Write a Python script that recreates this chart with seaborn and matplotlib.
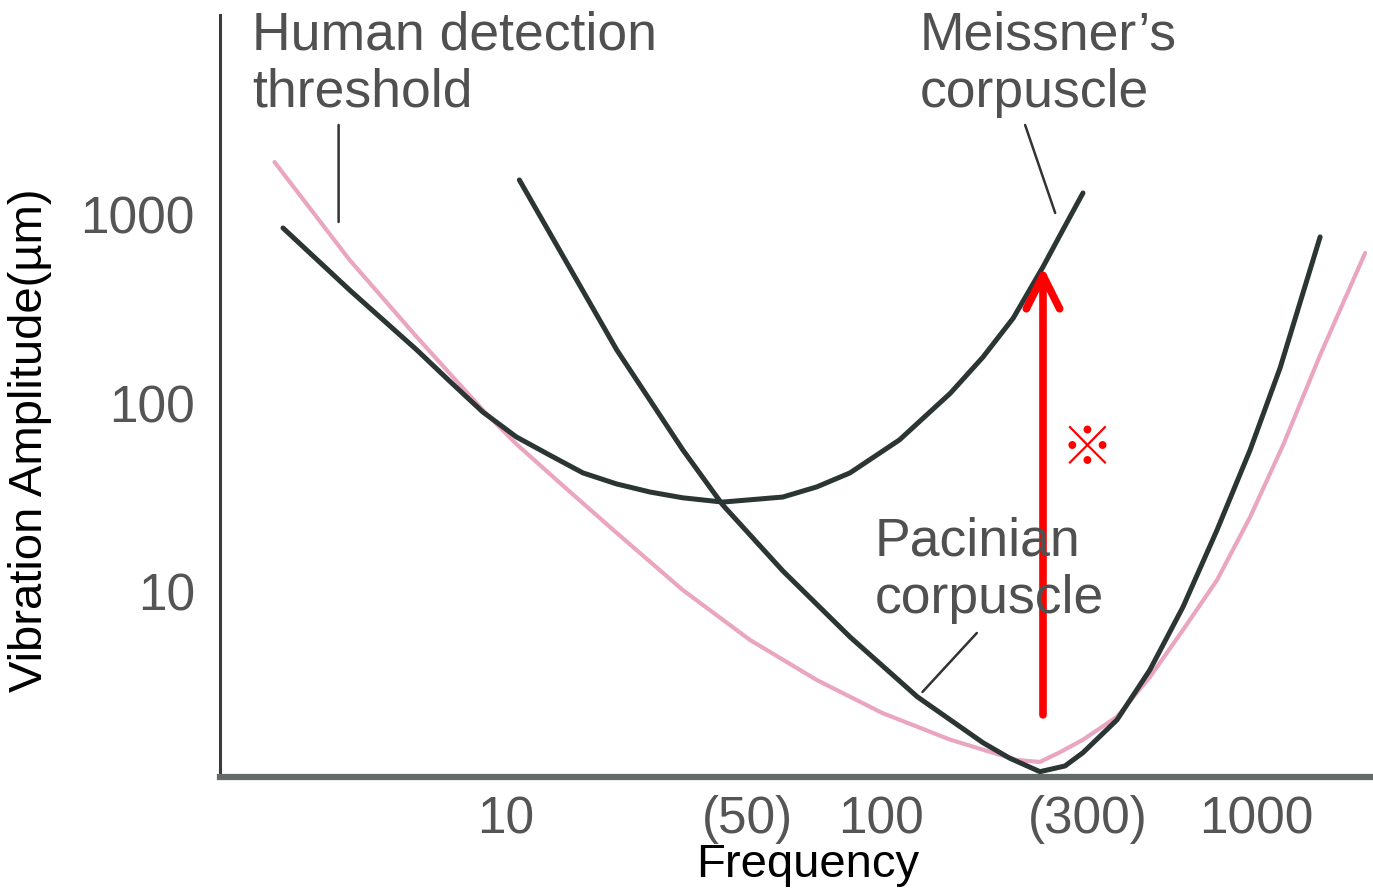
import matplotlib
matplotlib.use('Agg')
import matplotlib.pyplot as plt
import seaborn as sns
import pandas as pd
from matplotlib.ticker import NullLocator

# values: frequency (Hz) and vibration amplitude (um)
human_freq = [2.43, 3.85, 5.81, 8.71, 10.7, 13.97, 19.8, 29.7, 44.8, 67.5, 101, 153, 230, 265,
              300, 345, 425, 520, 637, 785, 961, 1177, 1476, 1945]
human_amp = [1905, 576, 225, 92.1, 60.8, 37.8, 20.5, 10.2, 5.55, 3.40, 2.27, 1.64, 1.28, 1.25,
             1.41, 1.64, 2.17, 3.53, 6.27, 11.55, 24.9, 60.1, 180, 627]

meissner_freq = [2.56, 3.85, 5.81, 7.11, 8.71, 10.7, 13.1, 16.1, 19.8, 24.3, 29.7, 37.9, 54.8,
                 67.5, 82.7, 112, 153, 187, 225, 270, 305, 345]
meissner_amp = [851, 399, 192, 131, 89.9, 66.3, 53.2, 42.7, 37.3, 33.8, 31.5, 29.9, 31.8,
                36.0, 42.7, 63.9, 113, 176, 283, 529, 831, 1305]

pacinian_freq = [10.9, 19.8, 29.7, 37.9, 54.8, 82.7, 125, 187, 220, 265, 309, 345, 425, 520, 637,
                 785, 961, 1155, 1476]
pacinian_amp = [1530, 192, 56.5, 28.9, 12.9, 5.76, 2.77, 1.58, 1.31, 1.11, 1.19, 1.40, 2.09, 3.85,
                8.31, 21.3, 56.5, 154, 763]

x_ticks = [10, 44, 100, 355, 1000]
x_tick_labels = ['10', '(50)', '100', '(300)', '1000']
y_ticks = [10, 100, 1000]
y_tick_labels = ['10', '100', '1000']

# red arrow: gap between Pacinian and Meissner thresholds
arrow_freq = 270
arrow_from, arrow_to = 2.22, 529

sns.set_style('white')
plt.rcParams['font.family'] = ['Liberation Sans', 'DejaVu Sans']

fig = plt.figure(figsize=(13.73, 8.94), dpi=100)
ax = fig.add_axes([220 / 1373, 117 / 894, 1150 / 1373, 762 / 894])

human = pd.DataFrame({'freq': human_freq, 'amp': human_amp})
meissner = pd.DataFrame({'freq': meissner_freq, 'amp': meissner_amp})
pacinian = pd.DataFrame({'freq': pacinian_freq, 'amp': pacinian_amp})

sns.lineplot(data=human, x='freq', y='amp', sort=False, color='#eaa6c0', linewidth=3.0, ax=ax)
sns.lineplot(data=meissner, x='freq', y='amp', sort=False, color='#2b3533', linewidth=3.6, ax=ax)
sns.lineplot(data=pacinian, x='freq', y='amp', sort=False, color='#2b3533', linewidth=3.6, ax=ax)

ax.set_xscale('log')
ax.set_yscale('log')
ax.set_xlim(1.74, 2004)
ax.set_ylim(1.04, 11480)
ax.set_xticks(x_ticks)
ax.set_xticklabels(x_tick_labels)
ax.set_yticks(y_ticks)
ax.set_yticklabels(y_tick_labels)
ax.xaxis.set_minor_locator(NullLocator())
ax.yaxis.set_minor_locator(NullLocator())
ax.tick_params(axis='both', direction='in', length=16, width=1.8, color='#333333',
               labelsize=37, labelcolor='#555555')
ax.tick_params(axis='x', pad=13)
ax.tick_params(axis='y', pad=18)

for side in ['top', 'right']:
    ax.spines[side].set_visible(False)
ax.spines['left'].set_linewidth(2.2)
ax.spines['left'].set_color('#3a3a3a')
ax.spines['bottom'].set_linewidth(4.5)
ax.spines['bottom'].set_color('#646a68')

ax.set_xlabel('Frequency', fontsize=34, color='black', va='center')
ax.xaxis.set_label_coords(0.511, -0.1155)
ax.set_ylabel('Vibration Amplitude(µm)', fontsize=34, color='black', va='center')
ax.yaxis.set_label_coords(-0.165, 0.442)

# curve labels with their pointer lines
text_kw = dict(fontsize=38.5, color='#505050', ha='left', va='top', linespacing=1.2)
fig.text(252 / 1373, 1 - 10 / 894, 'Human detection\nthreshold', **text_kw)
fig.text(920 / 1373, 1 - 10 / 894, 'Meissner’s\ncorpuscle', **text_kw)
fig.text(875 / 1373, 1 - 516 / 894, 'Pacinian\ncorpuscle', **text_kw)

line_kw = dict(arrowstyle='-', color='#333333', lw=1.8, shrinkA=0, shrinkB=0)
ax.annotate('', xy=(3.60, 916), xytext=(3.60, 2995), arrowprops=line_kw)
ax.annotate('', xy=(291, 1022), xytext=(242, 2995), arrowprops=line_kw)
ax.annotate('', xy=(129, 2.94), xytext=(180, 6.04), arrowprops=line_kw)

ax.annotate('', xy=(arrow_freq, arrow_to), xytext=(arrow_freq, arrow_from),
            arrowprops=dict(arrowstyle='->,head_length=0.6,head_width=0.3', color='red',
                            lw=5.5, mutation_scale=40, shrinkA=0, shrinkB=0,
                            capstyle='round', joinstyle='round'))
ax.text(354, 56.5, '※', fontsize=38, color='red', ha='center', va='center',
        family=['Noto Sans CJK JP', 'DejaVu Sans'])

fig.savefig('out.png', dpi=100)
